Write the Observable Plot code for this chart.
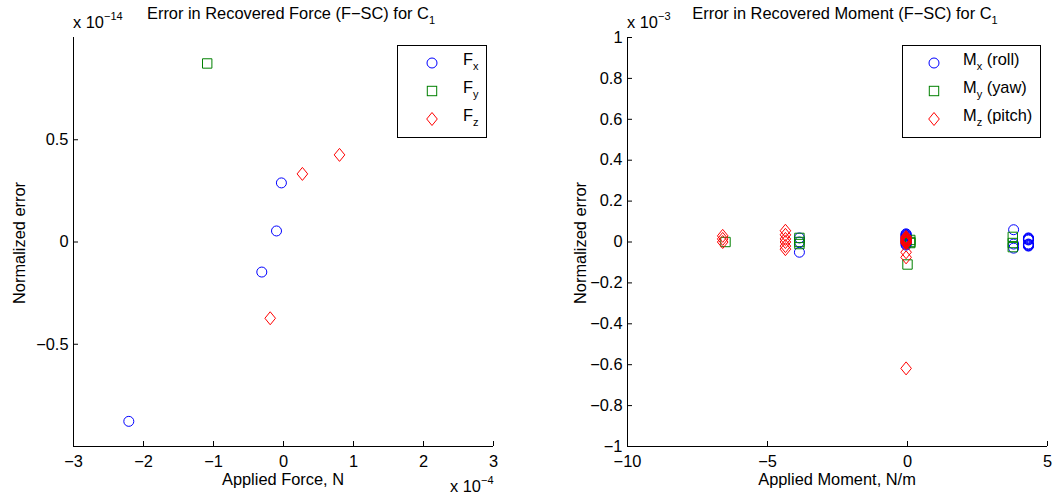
<!DOCTYPE html>
<html><head><meta charset="utf-8">
<script src="https://cdn.jsdelivr.net/npm/d3@7"></script>
<script src="https://cdn.jsdelivr.net/npm/@observablehq/plot@0.6"></script>
<style>
body{margin:0;background:#fff;}
#wrap{position:relative;width:1060px;height:501px;font-family:"Liberation Sans",Arial,Helvetica,sans-serif;}
#wrap > svg{position:absolute;top:0;}
</style></head><body><div id="wrap"></div>
<script>
// ---- Left panel: applied force (x 1e-4 N) vs normalized error (x 1e-14)
const fxForce = [-2.21, -0.31, -0.10, -0.03];
const fxError = [-0.877, -0.147, 0.054, 0.289];
const fyForce = [-1.09];
const fyError = [0.873];
const fzForce = [-0.19, 0.27, 0.80];
const fzError = [-0.373, 0.333, 0.426];
const forceXTicks = [-3, -2, -1, 0, 1, 2, 3];
const forceYTicks = [-0.5, 0, 0.5];

// ---- Right panel: applied moment (N/m) vs normalized error (x 1e-3)
const mxMoment = [-3.86, -3.86, -3.86,
  -0.05, -0.05, -0.05, -0.05, -0.05, -0.05, -0.05, -0.05, -0.05, -0.05, -0.05, -0.05, -0.05,
  3.79, 3.79, 3.79,
  4.32, 4.32, 4.32, 4.32, 4.32, 4.32, 4.32, 4.32, 4.32, 4.32];
const mxError  = [0.02, 0.0, -0.05,
  0.04, 0.037, 0.033, 0.03, 0.025, 0.02, 0.015, 0.01, 0.005, 0.0, -0.005, -0.01, -0.015,
  0.06, -0.01, -0.03,
  0.02, 0.018, 0.015, 0.012, 0.01, -0.01, -0.012, -0.015, -0.018, -0.02];
const myMoment = [-6.5, -3.86, -3.86, -3.86, 0.1, 0.1, 0.1, 0.0, 3.76, 3.76, 3.76];
const myError  = [0.0, 0.02, 0.0, -0.01, 0.01, 0.0, -0.005, -0.11, 0.025, -0.005, -0.025];
const mzMoment = [-6.6, -6.6, -6.6,
  -4.36, -4.36, -4.36, -4.36, -4.36, -4.36,
  -0.05, -0.05, -0.05, -0.05, -0.05, -0.05, -0.05, -0.05, -0.05, -0.05, -0.05, -0.05, -0.05, -0.05];
const mzError  = [0.03, 0.015, 0.0,
  0.055, 0.035, 0.015, 0.0, -0.02, -0.035,
  0.025, 0.022, 0.018, 0.015, 0.012, 0.008, 0.005, 0.002, 0.0, -0.003, -0.006, -0.05, -0.075, -0.618];
const momentXTicks = [-10, -5, 0, 5];
const momentYTicks = [-1, -0.8, -0.6, -0.4, -0.2, 0, 0.2, 0.4, 0.6, 0.8, 1];

const FONT = '"Liberation Sans", Arial, Helvetica, sans-serif';
const FS = "16.4px";
const BLUE = "#0000ff", GREEN = "#008000", RED = "#ff0000";
const fmt = d => (d < 0 ? "\u2212" : "") + String(+Math.abs(d).toFixed(2));
const zipXY = (xs, ys) => xs.map((x, i) => ({x, y: ys[i]}));

// MATLAB-like diamond: slightly taller than wide
const tallDiamond = {
  draw(ctx, size) {
    const r = Math.sqrt(size / Math.PI);
    const w = r * 1.06, h = r * 1.3;
    ctx.moveTo(0, -h); ctx.lineTo(w, 0); ctx.lineTo(0, h); ctx.lineTo(-w, 0); ctx.closePath();
  }
};

function panel({width, marginLeft, marginRight, xDomain, yDomain, xTicks, yTicks, series}) {
  const H = 501, mt = 37, mb = 55;
  const innerW = width - marginLeft - marginRight, innerH = H - mt - mb;
  const tick = 5;
  const dy = tick * (yDomain[1] - yDomain[0]) / innerH;
  const dx = tick * (xDomain[1] - xDomain[0]) / innerW;
  const marks = [
    Plot.axisX({ticks: xTicks, tickSize: 0, tickPadding: 9, tickFormat: fmt, label: null}),
    Plot.axisY({ticks: yTicks, tickSize: 0, tickPadding: 5, tickFormat: fmt, label: null}),
    Plot.ruleY([yDomain[0]], {stroke: "#000", strokeWidth: 1}),
    Plot.ruleX([xDomain[0]], {stroke: "#000", strokeWidth: 1}),
    Plot.ruleX(xTicks, {x: d => d, y1: yDomain[0], y2: yDomain[0] + dy, stroke: "#000"}),
    Plot.ruleY(yTicks, {y: d => d, x1: xDomain[0], x2: xDomain[0] + dx, stroke: "#000"})
  ];
  for (const s of series) {
    marks.push(Plot.dot(s.data, {x: "x", y: "y", symbol: s.symbol, r: s.r, stroke: s.color, fill: "none", strokeWidth: 1}));
  }
  return Plot.plot({
    width, height: H, marginLeft, marginRight, marginTop: mt, marginBottom: mb,
    x: {domain: xDomain}, y: {domain: yDomain},
    style: {fontFamily: FONT, fontSize: FS, color: "#000", background: "transparent", overflow: "visible"},
    marks
  });
}

const wrap = document.getElementById("wrap");
const left = panel({
  width: 530, marginLeft: 73, marginRight: 37,
  xDomain: [-3, 3], yDomain: [-1, 1], xTicks: forceXTicks, yTicks: forceYTicks,
  series: [
    {data: zipXY(fxForce, fxError), symbol: "circle", r: 5, color: BLUE},
    {data: zipXY(fyForce, fyError), symbol: "square", r: 5.3, color: GREEN},
    {data: zipXY(fzForce, fzError), symbol: tallDiamond, r: 5, color: RED}
  ]
});
left.style.left = "0px";
const right = panel({
  width: 530, marginLeft: 97, marginRight: 13,
  xDomain: [-10, 5], yDomain: [-1, 1], xTicks: momentXTicks, yTicks: momentYTicks,
  series: [
    {data: zipXY(mxMoment, mxError), symbol: "circle", r: 5, color: BLUE},
    {data: zipXY(myMoment, myError), symbol: "square", r: 5.3, color: GREEN},
    {data: zipXY(mzMoment, mzError), symbol: tallDiamond, r: 5, color: RED}
  ]
});
right.style.left = "530px";
wrap.appendChild(left);
wrap.appendChild(right);

// ---- Overlay: titles, exponents, axis labels, legends
const NS = "http://www.w3.org/2000/svg";
const ov = document.createElementNS(NS, "svg");
ov.setAttribute("width", 1060); ov.setAttribute("height", 501);
ov.style.position = "absolute"; ov.style.left = "0px"; ov.style.top = "0px";
ov.style.fontFamily = FONT; ov.style.fontSize = FS;
wrap.appendChild(ov);

function txt(x, y, parts, opts = {}) {
  const t = document.createElementNS(NS, "text");
  t.setAttribute("x", x); t.setAttribute("y", y);
  if (opts.anchor) t.setAttribute("text-anchor", opts.anchor);
  if (opts.rotate) t.setAttribute("transform", `rotate(${opts.rotate},${x},${y})`);
  t.setAttribute("fill", "#000");
  let shift = 0;
  for (const p of parts) {
    const s = document.createElementNS(NS, "tspan");
    const off = p.sub ? 5 : p.sup ? -8 : 0;
    if (off !== shift) { s.setAttribute("dy", off - shift); shift = off; }
    if (p.sub || p.sup) s.setAttribute("font-size", "11px");
    s.textContent = p.t;
    t.appendChild(s);
  }
  ov.appendChild(t);
  return t;
}

txt(291, 19, [{t: "Error in Recovered Force (F\u2212SC) for C"}, {t: "1", sub: true}], {anchor: "middle"});
txt(845, 19, [{t: "Error in Recovered Moment (F\u2212SC) for C"}, {t: "1", sub: true}], {anchor: "middle"});
txt(73, 28, [{t: "x 10"}, {t: "\u221214", sup: true}]);
txt(627, 28, [{t: "x 10"}, {t: "\u22123", sup: true}]);
txt(450, 492, [{t: "x 10"}, {t: "\u22124", sup: true}]);
txt(283, 485, [{t: "Applied Force, N"}], {anchor: "middle"});
txt(837, 485, [{t: "Applied Moment, N/m"}], {anchor: "middle"});
txt(25, 243, [{t: "Normalized error"}], {anchor: "middle", rotate: -90});
txt(586, 243, [{t: "Normalized error"}], {anchor: "middle", rotate: -90});

function legend(x, y, w, h, mx, lx, items) {
  const r = document.createElementNS(NS, "rect");
  r.setAttribute("x", x + 0.5); r.setAttribute("y", y + 0.5);
  r.setAttribute("width", w); r.setAttribute("height", h);
  r.setAttribute("fill", "#fff"); r.setAttribute("stroke", "#000");
  ov.appendChild(r);
  items.forEach((it, i) => {
    const cy = y + 18 + i * 28;
    let m;
    if (it.symbol === "circle") {
      m = document.createElementNS(NS, "circle");
      m.setAttribute("cx", mx); m.setAttribute("cy", cy); m.setAttribute("r", 5);
    } else if (it.symbol === "square") {
      m = document.createElementNS(NS, "rect");
      m.setAttribute("x", mx - 4.7); m.setAttribute("y", cy - 4.7);
      m.setAttribute("width", 9.4); m.setAttribute("height", 9.4);
    } else {
      m = document.createElementNS(NS, "path");
      m.setAttribute("d", `M${mx},${cy - 6.5}L${mx + 5.3},${cy}L${mx},${cy + 6.5}L${mx - 5.3},${cy}Z`);
    }
    m.setAttribute("fill", "none"); m.setAttribute("stroke", it.color);
    ov.appendChild(m);
    txt(lx, cy + 2, it.parts);
  });
}
legend(397, 45, 89, 92, 432, 463, [
  {symbol: "circle", color: BLUE, parts: [{t: "F"}, {t: "x", sub: true}]},
  {symbol: "square", color: GREEN, parts: [{t: "F"}, {t: "y", sub: true}]},
  {symbol: "diamond", color: RED, parts: [{t: "F"}, {t: "z", sub: true}]}
]);
legend(902, 45, 138, 92, 934, 963, [
  {symbol: "circle", color: BLUE, parts: [{t: "M"}, {t: "x", sub: true}, {t: " (roll)"}]},
  {symbol: "square", color: GREEN, parts: [{t: "M"}, {t: "y", sub: true}, {t: " (yaw)"}]},
  {symbol: "diamond", color: RED, parts: [{t: "M"}, {t: "z", sub: true}, {t: " (pitch)"}]}
]);
</script></body></html>
